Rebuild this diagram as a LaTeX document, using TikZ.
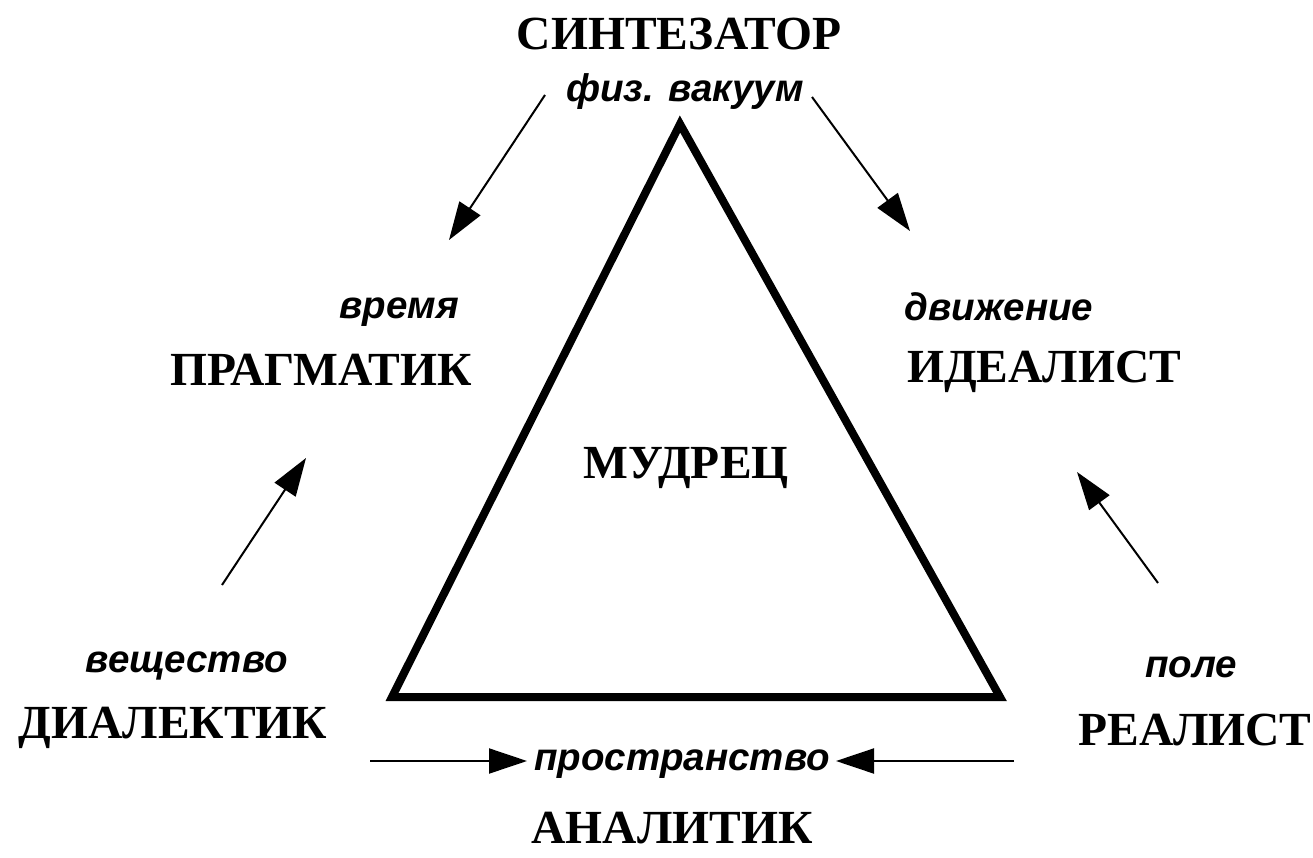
\documentclass[tikz,border=0pt]{standalone}
\usepackage{fontspec}
\setmainfont{Liberation Serif}
\newfontfamily\lblfont{Liberation Sans}
\usetikzlibrary{arrows.meta}
\begin{document}
\begin{tikzpicture}[x=1pt,y=-1pt,
  role/.style={font=\fontsize{47.5}{47.5}\selectfont\bfseries, anchor=base, inner sep=0pt},
  elem/.style={font=\lblfont\fontsize{38.5}{38.5}\selectfont\bfseries\itshape, anchor=base, inner sep=0pt},
  tri/.style={line width=8pt, line join=miter},
  flow/.style={line width=2pt, -{Triangle[length=38pt,width=25pt]}}]
\useasboundingbox (0,0) rectangle (1313,858);
% triangle
\coordinate (A) at (680,124);
\coordinate (B) at (392,697);
\coordinate (C) at (1000,697);
\draw[tri] (A) -- (B) -- (C) -- cycle;
% texts
\node[role] (synt) at (679,50) {СИНТЕЗАТОР};
\node[elem] (vac) at (685,102) {физ. вакуум};
\node[elem] (time) at (399,318) {время};
\node[role] (prag) at (321,385) {ПРАГМАТИК};
\node[elem] (move) at (999,320) {движение};
\node[role] (ideal) at (1044,382) {ИДЕАЛИСТ};
\node[role] (sage) at (686,478) {МУДРЕЦ};
\node[elem] (matter) at (187,672) {вещество};
\node[role] (dial) at (173,738) {ДИАЛЕКТИК};
\node[elem] (field) at (1191,677) {поле};
\node[role] (real) at (1195,745) {РЕАЛИСТ};
\node[elem] (space) at (682,770) {пространство};
\node[role] (anal) at (672,843) {АНАЛИТИК};
% arrow end points
\coordinate (tl0) at (545,95);  \coordinate (tl1) at (449,240);
\coordinate (tr0) at (812,97);  \coordinate (tr1) at (910,231);
\coordinate (bl0) at (222,585); \coordinate (bl1) at (306,458);
\coordinate (br0) at (1158,583); \coordinate (br1) at (1077,472);
\coordinate (hl0) at (370,761); \coordinate (hl1) at (527,761);
\coordinate (hr0) at (1014,761); \coordinate (hr1) at (836,761);
\draw[flow] (tl0) -- (tl1);
\draw[flow] (tr0) -- (tr1);
\draw[flow] (bl0) -- (bl1);
\draw[flow] (br0) -- (br1);
\draw[flow] (hl0) -- (hl1);
\draw[flow] (hr0) -- (hr1);
\end{tikzpicture}
\end{document}
